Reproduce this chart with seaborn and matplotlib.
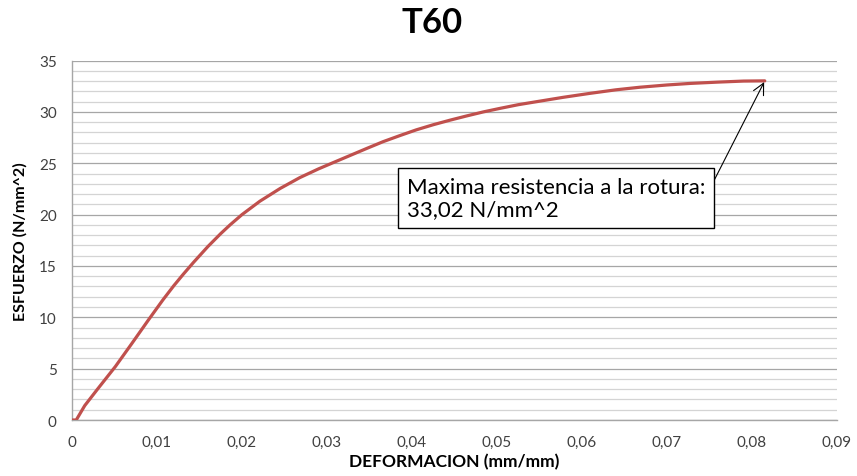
import matplotlib
matplotlib.use("Agg")
import matplotlib.pyplot as plt
from matplotlib.ticker import MultipleLocator, FuncFormatter
import pandas as pd
import seaborn as sns

# Stress-strain readings for specimen T60
deformacion = [0.0000, 0.0005, 0.0010, 0.0015, 0.0030, 0.0051, 0.0070, 0.0090,
               0.0107, 0.0120, 0.0131, 0.0143, 0.0160, 0.0175, 0.0186, 0.0200,
               0.0221, 0.0245, 0.0268, 0.0290, 0.0307, 0.0327, 0.0347, 0.0366,
               0.0386, 0.0405, 0.0425, 0.0445, 0.0464, 0.0484, 0.0504, 0.0525,
               0.0547, 0.0578, 0.0609, 0.0640, 0.0668, 0.0700, 0.0727, 0.0760,
               0.0790, 0.0815]
esfuerzo = [0.0, 0.0, 0.7, 1.4, 3.0, 5.2, 7.4, 9.75,
            11.7, 13.1, 14.2, 15.35, 16.9, 18.15, 19.0, 20.0,
            21.3, 22.55, 23.6, 24.45, 25.05, 25.75, 26.45, 27.1,
            27.7, 28.25, 28.75, 29.2, 29.6, 30.0, 30.35, 30.7,
            31.0, 31.42, 31.8, 32.15, 32.4, 32.62, 32.77, 32.9,
            33.0, 33.02]
max_strain = 0.0815
max_stress = 33.02

title = "T60"
x_label = "DEFORMACION (mm/mm)"
y_label = "ESFUERZO (N/mm^2)"
note = "Maxima resistencia a la rotura:\n33,02 N/mm^2"

sns.set_theme(style="white")
plt.rcParams["font.family"] = ["Lato", "DejaVu Sans"]

df = pd.DataFrame({"deformacion": deformacion, "esfuerzo": esfuerzo})

fig = plt.figure(figsize=(8.57, 4.77), dpi=100)
ax = fig.add_axes([0.084, 0.1174, 0.8927, 0.7536])

sns.lineplot(data=df, x="deformacion", y="esfuerzo", ax=ax, color="#C0504D",
             linewidth=2.3, zorder=3)

ax.set_xlim(0, 0.09)
ax.set_ylim(0, 35)
ax.xaxis.set_major_locator(MultipleLocator(0.01))
ax.yaxis.set_major_locator(MultipleLocator(5))
ax.yaxis.set_minor_locator(MultipleLocator(1))


def fmt_x(v, _):
    if abs(v) < 1e-9:
        return "0"
    return f"{v:.2f}".replace(".", ",")


ax.xaxis.set_major_formatter(FuncFormatter(fmt_x))
ax.yaxis.set_major_formatter(FuncFormatter(lambda v, _: f"{v:.0f}"))

ax.grid(False)
ax.yaxis.grid(True, which="major", color="#A6A6A6", linewidth=0.9)
ax.yaxis.grid(True, which="minor", color="#D4D4D4", linewidth=0.9)
ax.set_axisbelow(True)

for side in ("top", "right"):
    ax.spines[side].set_visible(False)
for side in ("left", "bottom"):
    ax.spines[side].set_color("#A6A6A6")
    ax.spines[side].set_linewidth(1.0)

ax.tick_params(axis="both", which="major", direction="out", length=5, width=1,
               color="#A6A6A6", labelsize=11, labelcolor="#404040")
ax.tick_params(axis="y", which="minor", length=0)
ax.tick_params(axis="x", pad=6)
ax.tick_params(axis="y", pad=6)

ax.set_xlabel(x_label, fontsize=12.5, fontweight="bold", color="#000000", labelpad=3)
ax.set_ylabel(y_label, fontsize=11.5, fontweight="bold", color="#000000", labelpad=8)
fig.text(0.504, 0.952, title, ha="center", va="center", fontsize=25,
         fontweight="bold", color="#000000")

ax.annotate(note, xy=(max_strain, max_stress), xytext=(0.0394, 21.64),
            textcoords="data", ha="left", va="center", fontsize=16,
            color="#000000", linespacing=1.15,
            bbox=dict(boxstyle="square,pad=0.4", facecolor="white",
                      edgecolor="#000000", linewidth=1.0),
            arrowprops=dict(arrowstyle="->,head_length=0.5,head_width=0.25",
                            color="#000000", linewidth=0.8,
                            relpos=(1.0, 0.5), shrinkA=0, shrinkB=1),
            zorder=4)

fig.savefig("out.png", dpi=100, facecolor="white")
